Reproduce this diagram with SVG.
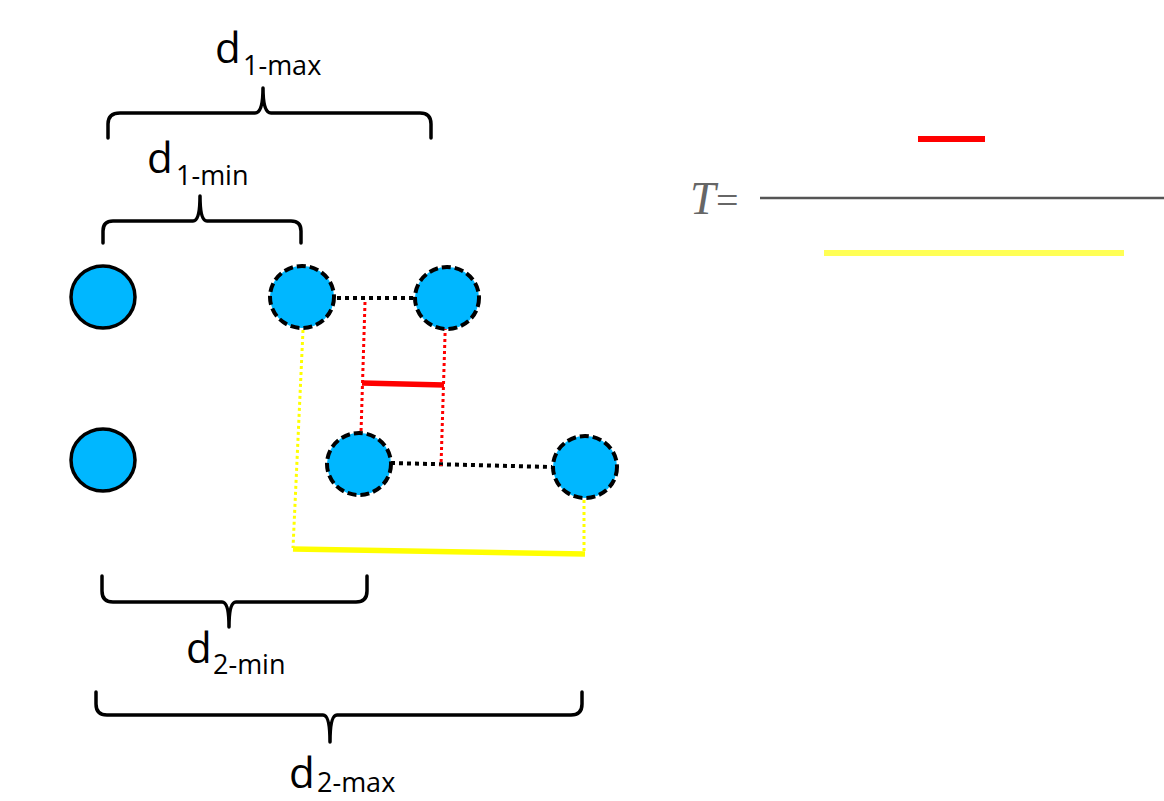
<svg xmlns="http://www.w3.org/2000/svg" width="1164" height="801" viewBox="0 0 1164 801">
<style>
.node{fill:#00b7ff;stroke:#000;stroke-width:3.5}
.dash{stroke-width:4;stroke-dasharray:9 4}
.brace{fill:none;stroke:#000;stroke-width:3.5;stroke-linejoin:round;stroke-linecap:round}
.lbl{font-family:"Open Sans","Liberation Sans",sans-serif;fill:#000}
.d{font-size:42px}
.sub{font-size:27px}
.bdot{stroke:#000;stroke-width:4;stroke-dasharray:4 4;fill:none}
.rdot{stroke:#ff0000;stroke-width:3;stroke-dasharray:3 3;fill:none}
.ydot{stroke:#ffff00;stroke-width:3;stroke-dasharray:3 3;fill:none}
</style>
<rect width="1164" height="801" fill="#fff"/>
<g id="connectors">
<line class="bdot" x1="337" y1="298" x2="414" y2="298"/>
<line class="bdot" x1="391" y1="463" x2="552" y2="467"/>
<line class="rdot" x1="365" y1="302" x2="360" y2="465"/>
<line class="rdot" x1="446" y1="303" x2="441" y2="466"/>
<line x1="362" y1="383" x2="444" y2="385" stroke="#ff0000" stroke-width="5.5"/>
<line class="ydot" x1="303" y1="330" x2="293" y2="548"/>
<line class="ydot" x1="584" y1="500" x2="584" y2="553"/>
<line x1="293" y1="549" x2="585" y2="554" stroke="#ffff00" stroke-width="5.5"/>
</g>
<g id="node-a"><ellipse class="node" cx="103" cy="297" rx="32" ry="31"/></g>
<g id="node-b"><ellipse class="node" cx="103" cy="460" rx="32" ry="31"/></g>
<g id="node-c"><ellipse class="node dash" cx="302" cy="297" rx="32" ry="31"/></g>
<g id="node-d"><ellipse class="node dash" cx="447" cy="298" rx="32" ry="31"/></g>
<g id="node-e"><ellipse class="node dash" cx="359" cy="464" rx="32" ry="31"/></g>
<g id="node-f"><ellipse class="node dash" cx="585" cy="467" rx="32" ry="31"/></g>
<g id="brace-d1max">
<path class="brace" d="M108,138 L108,124 Q108,113 120,113 L255,113 Q263,113 263,88 Q263,113 271,113 L420,113 Q431,113 431,124 L431,138"/>
<text class="lbl" x="215" y="63"><tspan class="d">d</tspan><tspan class="sub" x="243" y="75">1-max</tspan></text>
</g>
<g id="brace-d1min">
<path class="brace" d="M103,243 L103,231 Q103,221 113,221 L193,221 Q200,221 200,196 Q200,221 207,221 L291,221 Q301,221 301,231 L301,243"/>
<text class="lbl" x="147" y="173"><tspan class="d">d</tspan><tspan class="sub" x="176" y="185">1-min</tspan></text>
</g>
<g id="brace-d2min">
<path class="brace" d="M102,576 L102,591 Q102,602 113,602 L222,602 Q229,602 229,627 Q229,602 236,602 L356,602 Q367,602 367,591 L367,576"/>
<text class="lbl" x="186" y="663"><tspan class="d">d</tspan><tspan class="sub" x="213" y="674">2-min</tspan></text>
</g>
<g id="brace-d2max">
<path class="brace" d="M96,692 L96,704 Q96,715 107,715 L323,715 Q330,715 330,742 Q330,715 337,715 L571,715 Q582,715 582,704 L582,692"/>
<text class="lbl" x="289" y="788"><tspan class="d">d</tspan><tspan class="sub" x="317" y="792">2-max</tspan></text>
</g>
<g id="equation">
<text x="690" y="214" font-family="'Liberation Serif',serif" font-style="italic" font-size="46" fill="#666">T</text>
<text x="716" y="214" font-family="'Liberation Serif',serif" font-size="40" fill="#666">=</text>
<line x1="760" y1="198" x2="1164" y2="198" stroke="#555" stroke-width="2.5"/>
<line x1="918" y1="139" x2="985" y2="139" stroke="#ff0000" stroke-width="6"/>
<line x1="824" y1="253" x2="1124" y2="253" stroke="#ffff55" stroke-width="6"/>
</g>
</svg>
